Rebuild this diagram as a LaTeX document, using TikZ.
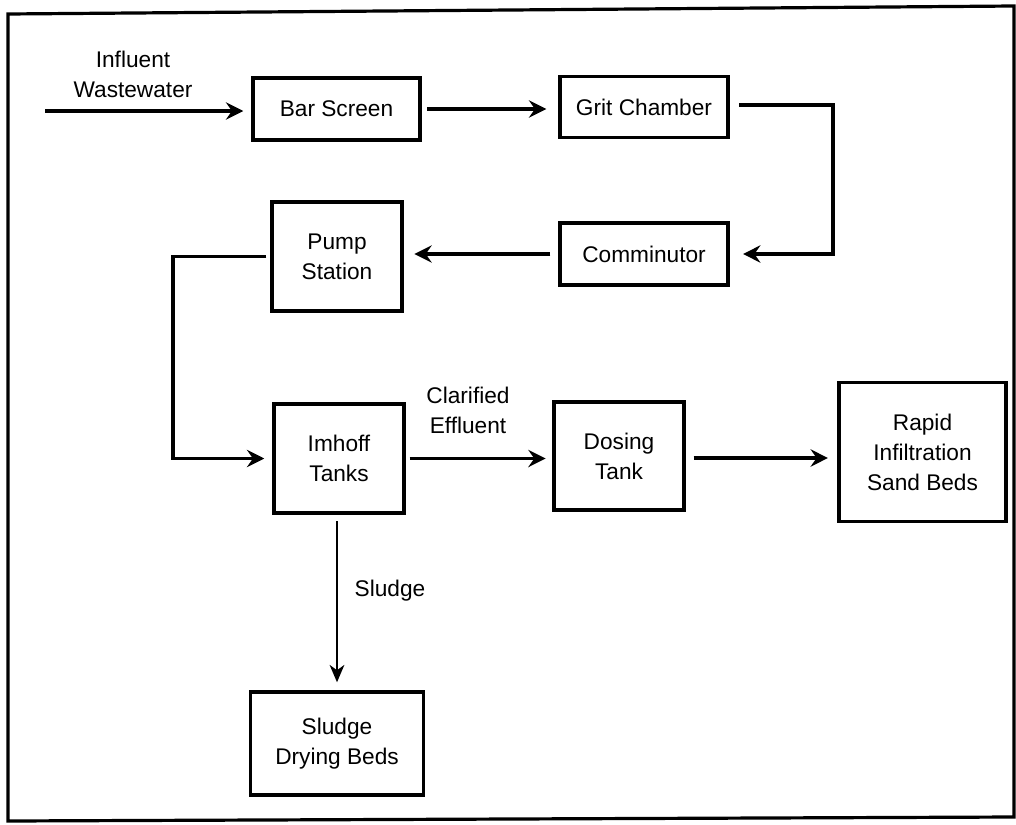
\documentclass[tikz,border=0pt]{standalone}
\usepackage{fontspec}
\setmainfont{Liberation Sans}
\usetikzlibrary{arrows.meta}
\begin{document}
\begin{tikzpicture}[x=0.75pt,y=-0.75pt,
  txt/.style={font=\fontsize{17}{22.5}\selectfont, align=center, inner sep=0pt},
  blk/.style={txt, draw, line width=2.6pt},
  arr/.style={line width=2.4pt, -{Stealth[length=13pt,width=13pt,inset=4.5pt]}},
  thinarr/.style={line width=1.7pt, -{Stealth[length=13pt,width=11pt,inset=4pt]}}]
\useasboundingbox (0,0) rectangle (1016,824);
\draw[line width=2.4pt] (8,14) -- (1014,6) -- (1014,817) -- (8,821) -- cycle;

\node[blk, minimum width=125.25pt, minimum height=46.5pt] (bar) at (336.5,109) {Bar Screen};
\node[blk, minimum width=126pt, minimum height=45.75pt] (grit) at (644,107) {Grit Chamber};
\node[blk, minimum width=126pt, minimum height=46.5pt] (comm) at (644,254) {Comminutor};
\node[blk, minimum width=97.5pt, minimum height=81.75pt] (pump) at (337,256.5) {Pump\\Station};
\node[blk, minimum width=97.5pt, minimum height=81.75pt] (imhoff) at (339,458.5) {Imhoff\\Tanks};
\node[blk, minimum width=97.5pt, minimum height=81pt] (dosing) at (619,456) {Dosing\\Tank};
\node[blk, minimum width=125.25pt, minimum height=104.25pt] (rapid) at (922.5,452) {Rapid\\Infiltration\\Sand Beds};
\node[blk, minimum width=129.75pt, minimum height=77.25pt] (drying) at (337,743.5) {Sludge\\Drying Beds};

\node[txt] (infl) at (133,74) {Influent\\Wastewater};
\node[txt] (clar) at (468,410) {Clarified\\Effluent};
\node[txt] (slabel) at (390,591) {Sludge};

\coordinate (src) at (45,111);
\coordinate (c1) at (833,0);
\coordinate (c2) at (173,0);

\draw[arr, shorten >=6pt] (src) -- (src -| bar.west);
\draw[arr, shorten <=4pt, shorten >=9pt] (bar.east) -- (bar.east -| grit.west);
\draw[arr, shorten <=7pt, shorten >=10pt] ([yshift=1.5pt]grit.east) -- ([yshift=1.5pt]grit.east -| c1) -- (c1 |- comm.east) -- (comm.east);
\draw[arr, shorten <=6pt, shorten >=8pt] (comm.west) -- (comm.west -| pump.east);
\draw[arr, shorten <=3pt, shorten >=6pt] (pump.west) -- (pump.west -| c2) -- (c2 |- imhoff.west) -- (imhoff.west);
\draw[arr, shorten <=3pt, shorten >=5pt] (imhoff.east) -- (imhoff.east -| dosing.west);
\draw[arr, shorten <=6pt, shorten >=7pt] ([yshift=-1.5pt]dosing.east) -- ([yshift=-1.5pt]dosing.east -| rapid.west);
\draw[thinarr, shorten <=5pt, shorten >=6pt] (imhoff.south -| drying.north) -- (drying.north);
\end{tikzpicture}
\end{document}
